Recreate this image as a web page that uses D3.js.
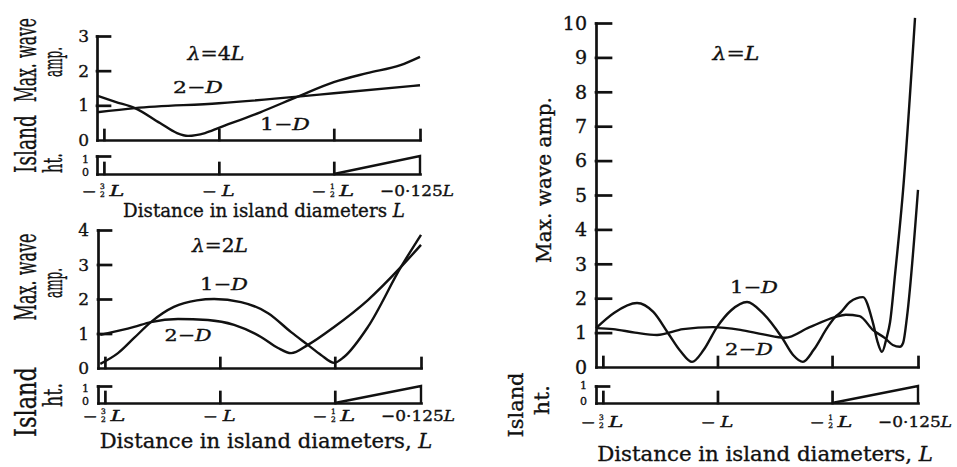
<!DOCTYPE html>
<html><head><meta charset="utf-8">
<script src="https://cdn.jsdelivr.net/npm/d3@7"></script>
<style>
body{margin:0;background:#fff}
svg{display:block;background:#fff}
text{font-family:"DejaVu Serif",serif;fill:#111;stroke:#111;stroke-width:0.35px}
</style>
</head><body>
<svg id="c" width="957" height="467"></svg>
<script>
// ---------------- DATA ----------------
const xTickValues = [-1.5, -1, -0.5, -0.125];
const xTickLabels = ["−3/2L", "−L", "−1/2L", "−0·125L"];
const yTicks4L = [0, 1, 2, 3];
const yTicks2L = [0, 1, 2, 3, 4];
const yTicksL  = [0, 1, 2, 3, 4, 5, 6, 7, 8, 9, 10];
const islandTicks = [0, 1];
const islandX = [-0.5, -0.125, -0.125];
const islandH = [0, 1, 0];

// lambda = 4L
const lam4L_1D = [[-1.53,1.28],[-1.45,1.1],[-1.365,0.92],[-1.256,0.49],[-1.182,0.2],[-1.134,0.12],[-1.06,0.2],[-1.0,0.35],[-0.82,0.8],[-0.657,1.25],[-0.5,1.67],[-0.355,1.93],[-0.21,2.16],[-0.125,2.4]];
const lam4L_2D = [[-1.53,0.8],[-1.365,0.92],[-1.0,1.06],[-0.657,1.25],[-0.5,1.35],[-0.125,1.58]];
// lambda = 2L
const lam2L_1D = [[-1.52,0.12],[-1.443,0.43],[-1.373,0.87],[-1.30,1.33],[-1.2,1.77],[-1.1,1.96],[-1.025,2.0],[-0.908,1.91],[-0.79,1.59],[-0.69,1.04],[-0.617,0.67],[-0.56,0.38],[-0.503,0.15],[-0.46,0.32],[-0.356,1.19],[-0.212,2.93],[-0.125,3.86]];
const lam2L_2D = [[-1.52,0.96],[-1.373,1.19],[-1.30,1.33],[-1.182,1.42],[-1.052,1.39],[-0.938,1.25],[-0.821,0.9],[-0.747,0.58],[-0.69,0.43],[-0.617,0.67],[-0.503,1.19],[-0.356,1.97],[-0.212,2.93],[-0.125,3.57]];
// lambda = L
const lamL_1D = [[-1.53,1.13],[-1.45,1.58],[-1.351,1.86],[-1.28,1.6],[-1.216,0.99],[-1.16,0.45],[-1.111,0.15],[-1.06,0.5],[-1.002,1.16],[-0.94,1.65],[-0.871,1.89],[-0.8,1.55],[-0.718,0.85],[-0.67,0.35],[-0.627,0.15],[-0.58,0.5],[-0.52,1.15],[-0.487,1.45],[-0.465,1.57],[-0.422,1.89],[-0.365,2.03],[-0.321,1.27],[-0.3,0.7],[-0.282,0.44],[-0.262,0.85],[-0.247,1.3],[-0.225,2.7],[-0.19,5.15],[-0.138,10.15]];
const lamL_2D = [[-1.53,1.13],[-1.456,1.1],[-1.36,1.0],[-1.264,0.93],[-1.15,1.1],[-1.02,1.16],[-0.9,1.08],[-0.8,0.95],[-0.705,0.85],[-0.6,1.15],[-0.487,1.45],[-0.44,1.52],[-0.38,1.48],[-0.321,1.07],[-0.269,0.84],[-0.235,0.64],[-0.204,0.59],[-0.19,0.7],[-0.173,1.46],[-0.125,5.15]];

// ---------------- DRAWING ----------------
const svg = d3.select("#c");
const INK = "#111";
const xDomain = [-1.53, -0.125];

function label(parent, x, y, parts, o) {
  const g = parent.append("g");
  const t = g.append("text")
    .attr("text-anchor", o.anchor || "middle")
    .style("font-size", o.size + "px")
    .style("font-weight", o.weight || "normal");
  parts.forEach(p => {
    t.append("tspan").text(p[0]).style("font-style", p[1] ? "italic" : "normal");
  });
  let sx = 1;
  if (o.width) {
    const len = t.node().getComputedTextLength();
    if (len > 0) sx = o.width / len;
  }
  g.attr("transform", `translate(${x},${y}) rotate(${o.rot || 0}) scale(${sx},1)`);
  return g;
}

function styleAxis(sel) {
  sel.selectAll("path,line").attr("stroke", INK).attr("stroke-width", 2.7).attr("stroke-linecap", "square");
  sel.selectAll("text").remove();
}

function xLabel(g, cx, base, lab) {
  if (lab.indexOf("0·125") >= 0) {
    label(g, cx - 3, base, [["−0·125"], ["L", 1]], {size: 15, width: 74});
    return;
  }
  const frac = lab.indexOf("/") >= 0;
  label(g, cx + (frac ? -14.5 : -9), base - 0.5, [["−"]], {size: 13, width: 15});
  if (frac) {
    const f = lab.slice(1, lab.length - 1).split("/");
    label(g, cx - 1.5, base - 7.5, [[f[0]]], {size: 7.5});
    label(g, cx - 1.5, base + 0.5, [[f[1]]], {size: 7.5});
  }
  label(g, cx + (frac ? 13 : 9.5), base, [["L", 1]], {size: 15, width: frac ? 15 : 13});
}

function panel(cfg) {
  const g = svg.append("g");
  const x = d3.scaleLinear().domain(xDomain).range(cfg.xr);
  const y = d3.scaleLinear().domain([0, cfg.ymax]).range(cfg.yr);
  const yi = d3.scaleLinear().domain([0, 1]).range(cfg.yir);

  // main axes
  g.append("g").attr("transform", `translate(0,${cfg.yr[0]})`)
    .call(d3.axisBottom(x).tickValues(xTickValues).tickSize(-10).tickSizeOuter(0))
    .call(styleAxis);
  g.append("g").attr("transform", `translate(${cfg.xr[0]},0)`)
    .call(d3.axisLeft(y).tickValues(cfg.yticks.filter(v => v > 0)).tickSize(-cfg.tick).tickSizeOuter(0))
    .call(styleAxis);
  // island axes
  g.append("g").attr("transform", `translate(0,${cfg.yir[0]})`)
    .call(d3.axisBottom(x).tickValues(xTickValues.slice(0, 3)).tickSize(-11).tickSizeOuter(0))
    .call(styleAxis);
  g.append("g").attr("transform", `translate(${cfg.xr[0]},0)`)
    .call(d3.axisLeft(yi).tickValues([1]).tickSize(-13).tickSizeOuter(0))
    .call(styleAxis);

  // island profile
  g.append("path")
    .attr("d", d3.line().x((d, i) => x(islandX[i])).y((d, i) => yi(islandH[i]))(islandX))
    .attr("fill", "none").attr("stroke", INK).attr("stroke-width", 2.4).attr("stroke-linejoin", "miter");

  // curves
  const line = d3.line().x(d => x(d[0])).y(d => y(d[1])).curve(d3.curveMonotoneX);
  [cfg.d1, cfg.d2].forEach(d => {
    g.append("path").attr("d", line(d)).attr("fill", "none")
      .attr("stroke", INK).attr("stroke-width", 2.4).attr("stroke-linejoin", "round");
  });

  // y tick labels
  cfg.yticks.forEach(v => {
    label(g, cfg.ylabX, y(v) + cfg.ylabSize * 0.36, [[String(v)]], {size: cfg.ylabSize, anchor: "end"});
  });
  islandTicks.forEach((v, i) => {
    label(g, cfg.ylabX, cfg.isLabY[i] + 4, [[String(v)]], {size: 11, anchor: "end"});
  });

  // x tick labels
  xTickValues.forEach((v, i) => xLabel(g, x(v), cfg.xlabBase, xTickLabels[i]));

  return {g, x, y, yi};
}

// Panel 1: lambda = 4L
const p1 = panel({xr: [97, 420], yr: [140, 36], yir: [174, 156], ymax: 3, yticks: yTicks4L, tick: 13,
  ylabX: 89, ylabSize: 17, isLabY: [172, 158.5], xlabBase: 196, d1: lam4L_1D, d2: lam4L_2D});
// Panel 2: lambda = 2L
const p2 = panel({xr: [98, 421], yr: [368, 230], yir: [403, 386], ymax: 4, yticks: yTicks2L, tick: 13,
  ylabX: 89, ylabSize: 17, isLabY: [401, 388], xlabBase: 421, d1: lam2L_1D, d2: lam2L_2D});
// Panel 3: lambda = L
const p3 = panel({xr: [596, 918], yr: [367, 23], yir: [403, 386], ymax: 10, yticks: yTicksL, tick: 15,
  ylabX: 587, ylabSize: 19, isLabY: [401, 385], xlabBase: 427, d1: lamL_1D, d2: lamL_2D});

// Titles and annotations
label(p1.g, 264, 217, [["Distance in island diameters "], ["L", 1]], {size: 19, width: 282});
label(p2.g, 266, 448, [["Distance in island diameters, "], ["L", 1]], {size: 21, width: 333});
label(p3.g, 765, 461, [["Distance in island diameters, "], ["L", 1]], {size: 21, width: 336});

label(p1.g, 216, 60, [["λ", 1], ["=4"], ["L", 1]], {size: 18, width: 57});
label(p2.g, 220, 252, [["λ", 1], ["=2"], ["L", 1]], {size: 18, width: 56});
label(p3.g, 736, 60, [["λ", 1], ["="], ["L", 1]], {size: 18, width: 47});

label(p1.g, 198, 93, [["2−"], ["D", 1]], {size: 17, width: 50});
label(p1.g, 285, 130, [["1−"], ["D", 1]], {size: 17, width: 50});
label(p2.g, 224, 290, [["1−"], ["D", 1]], {size: 17, width: 48});
label(p2.g, 188, 341, [["2−"], ["D", 1]], {size: 17, width: 47});
label(p3.g, 754, 293, [["1−"], ["D", 1]], {size: 17, width: 48});
label(p3.g, 749, 355, [["2−"], ["D", 1]], {size: 17, width: 48});

// Rotated axis labels
label(p1.g, 36, 60, [["Max. wave"]], {size: 29, width: 84, rot: -90});
label(p1.g, 62, 62, [["amp."]], {size: 26, width: 30, rot: -90});
label(p1.g, 36, 144, [["Island"]], {size: 29, width: 58, rot: -90});
label(p1.g, 62, 163, [["ht."]], {size: 26, width: 20, rot: -90});

label(p2.g, 36, 277, [["Max. wave"]], {size: 29, width: 87, rot: -90});
label(p2.g, 62, 283, [["amp."]], {size: 26, width: 30, rot: -90});
label(p2.g, 36, 402, [["Island"]], {size: 29, width: 70, rot: -90});
label(p2.g, 62, 395, [["ht."]], {size: 26, width: 24, rot: -90});

label(p3.g, 551, 180, [["Max. wave amp."]], {size: 21, width: 166, rot: -90});
label(p3.g, 523, 405, [["Island"]], {size: 21, width: 65, rot: -90});
label(p3.g, 549, 400, [["ht."]], {size: 20, width: 30, rot: -90});
</script>
</body></html>
